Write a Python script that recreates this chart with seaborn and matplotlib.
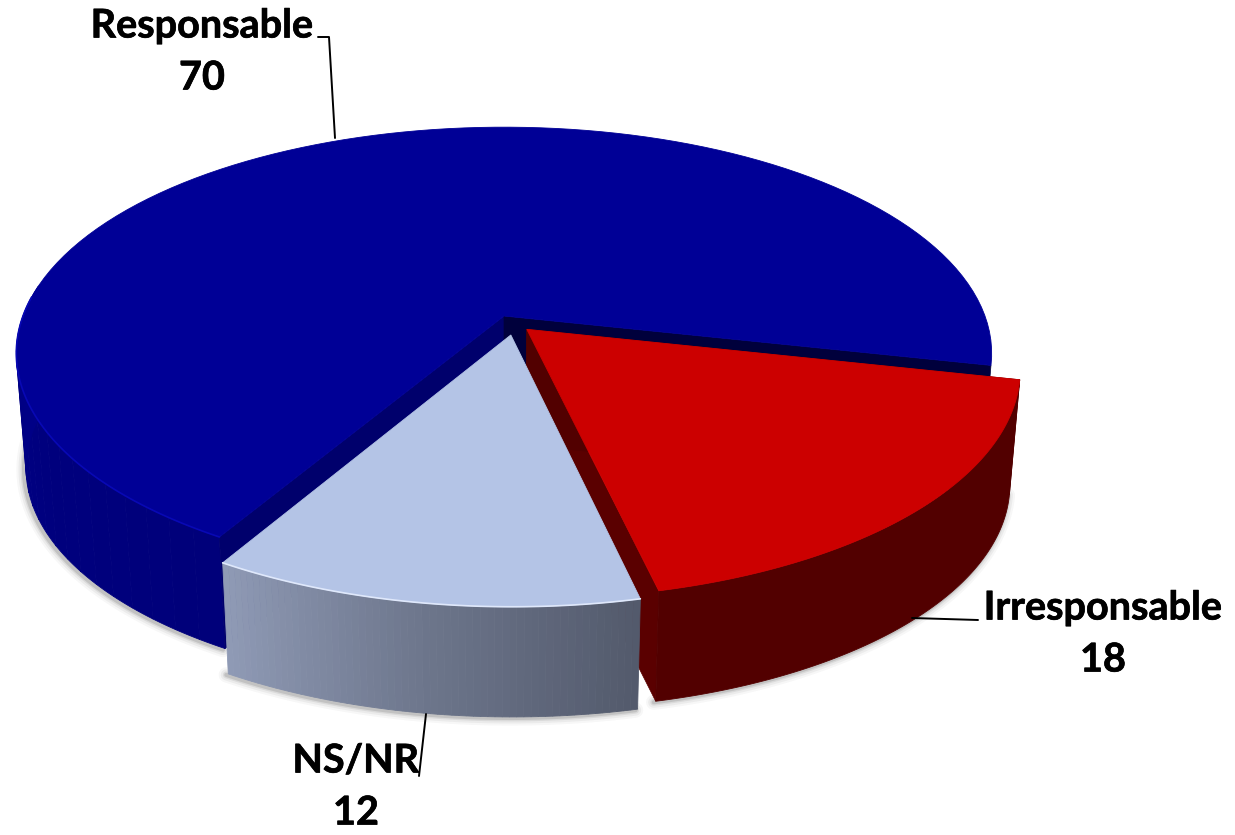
import numpy as np
import matplotlib
matplotlib.use("Agg")
import matplotlib.pyplot as plt
import matplotlib.patheffects as pe
import seaborn as sns

categories = ["Irresponsable", "NS/NR", "Responsable"]
values = [18, 12, 70]

sns.set_theme(style="white")
plt.rcParams["font.family"] = ["Lato", "DejaVu Sans"]

# perspective of the disc, in pixels
cx, cy = 504, 316
a, b = 481, 220
k = 0.165
depth = 116
shrink = 0.02
start = 12.5


def project(th, r=1.0, z=0.0, shift=(0, 0)):
    th = np.radians(th)
    u = r * np.cos(th) + shift[0]
    v = r * np.sin(th) + shift[1]
    w = 1 - k * v
    sc = 1 - shrink * z
    return cx + a * sc * u / w, cy + depth * z + b * sc * v / w


def arc(t0, t1, z=0.0, shift=(0, 0)):
    th = np.linspace(t0, t1, 120)
    return project(th, 1.0, z, shift)


def top_face(ax, t0, t1, color, shift=(0, 0), zorder=3):
    x, y = arc(t0, t1, 0, shift)
    x0, y0 = project(0, 0, 0, shift)
    ax.fill(np.r_[x0, x], np.r_[y0, y], color=color, lw=0.6, zorder=zorder)
    return x, y


def cut_face(ax, th, color, shift=(0, 0), zorder=2):
    x0, y0 = project(th, 0, 0, shift)
    x1, y1 = project(th, 1, 0, shift)
    x2, y2 = project(th, 1, 1, shift)
    x3, y3 = project(th, 0, 1, shift)
    ax.fill([x0, x1, x2, x3], [y0, y1, y2, y3], color=color, lw=0.5, zorder=zorder)


def wall(ax, t0, t1, colors, shift=(0, 0), zorder=2):
    edges = np.linspace(t0, t1, len(colors) + 1)
    for i, c in enumerate(colors):
        x1, y1 = arc(edges[i], edges[i + 1], 0, shift)
        x2, y2 = arc(edges[i], edges[i + 1], 1, shift)
        ax.fill(np.r_[x1, x2[::-1]], np.r_[y1, y2[::-1]], color=c, ec=c, lw=0.6, zorder=zorder)


def shadow(ax, t0, t1, shift=(0, 0)):
    x, y = arc(t0, t1, 1, shift)
    for lw, al in [(11, 0.04), (8, 0.06), (5, 0.09), (3, 0.14)]:
        ax.plot(x - 2, y + 1, color="#333333", lw=lw, alpha=al, zorder=1, solid_capstyle="round")


sweep = [v / sum(values) * 360 for v in values]
red_a, red_b = start, start + sweep[0]
ns_a, ns_b = red_b, red_b + sweep[1]
blue_a, blue_b = ns_b, start + 360

red_shift = (0.047, 0.06)
ns_shift = (0.014, 0.085)

fig = plt.figure(figsize=(12.35, 8.35), dpi=100)
ax = fig.add_axes([0, 0, 1, 1])
ax.set_xlim(0, 1235)
ax.set_ylim(835, 0)
ax.axis("off")

# Responsable
shadow(ax, blue_a, 188)
wall(ax, blue_a, 188, sns.blend_palette(["#00007a", "#00007e", "#000088"], 20))
cut_face(ax, blue_a, "#00006c")
cut_face(ax, blue_b, "#00003c")
top_face(ax, blue_a, blue_b, "#000096")
xr, yr = arc(blue_a, 185)
ax.plot(xr, yr, color="#0808b4", lw=1.2, zorder=3)

# Irresponsable
shadow(ax, red_a, red_b, red_shift)
cut_face(ax, red_b, "#5a0000", red_shift, zorder=4)
wall(ax, red_a, red_b, ["#520000"], red_shift, zorder=4)
cut_face(ax, red_a, "#520000", red_shift, zorder=4)
top_face(ax, red_a, red_b, "#cc0000", red_shift, zorder=5)

# NS/NR
shadow(ax, ns_a, ns_b, ns_shift)
wall(ax, ns_a, ns_b, sns.blend_palette(["#535a6c", "#6d768c", "#8f9ab5"], 60), ns_shift, zorder=6)
x, y = top_face(ax, ns_a, ns_b, "#b4c4e6", ns_shift, zorder=7)
ax.plot(x, y, color="#dfe8fb", lw=1.2, zorder=7)

# leader lines
ax.plot([318, 329, 335], [37, 37, 138], color="black", lw=1.4, zorder=8)
ax.plot([912, 978], [618, 620], color="black", lw=1.4, zorder=8)
ax.plot([426, 419], [714, 776], color="black", lw=1.4, zorder=8)

label_pos = {"Responsable": (202, 52), "Irresponsable": (1103, 634), "NS/NR": (356, 787)}
for name, val in zip(categories, values):
    lx, ly = label_pos[name]
    ax.text(lx, ly, f"{name}\n{val}", ha="center", va="center", fontsize=28.5,
            fontweight="bold", color="black", linespacing=1.5, zorder=9,
            path_effects=[pe.withStroke(linewidth=0.5, foreground="black")])

fig.savefig("out.png", dpi=100, facecolor="white")
